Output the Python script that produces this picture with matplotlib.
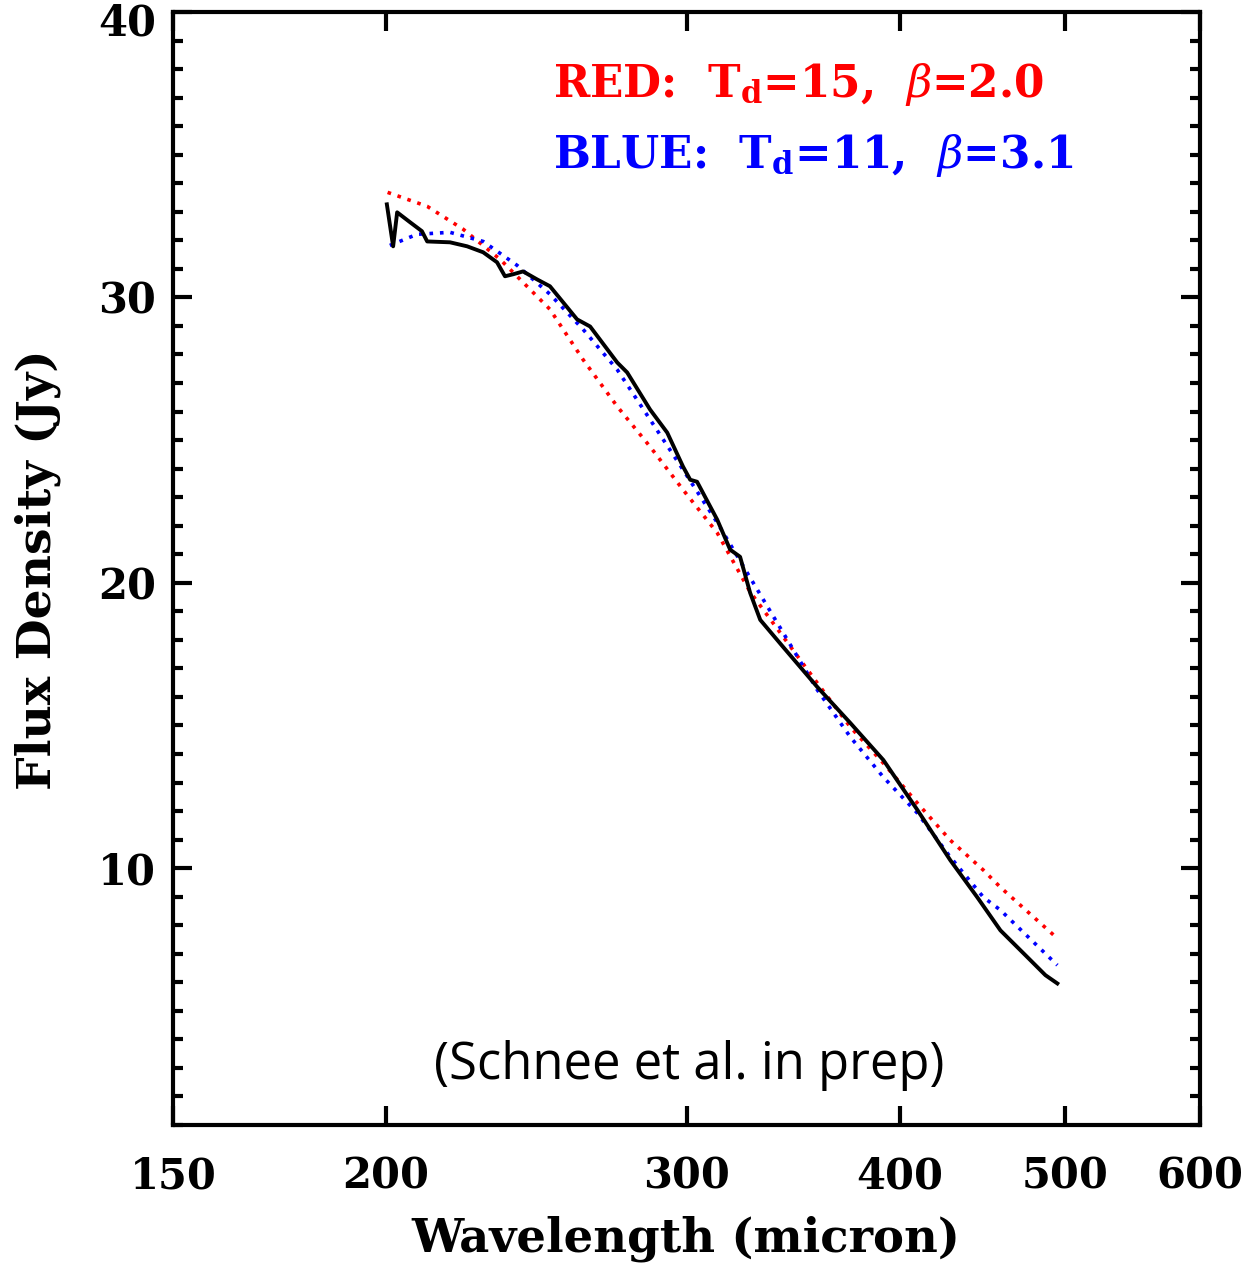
import matplotlib
matplotlib.use('Agg')
import matplotlib.pyplot as plt
import matplotlib.ticker as mticker

lam_obs = [200.2, 201.9, 203.0, 206.6, 209.9, 211.4, 218.0, 223.1, 228.0, 232.3,
           234.8, 237.4, 240.6, 245.2, 249.5, 258.8, 263.4, 273.2, 276.9, 285.6,
           292.3, 298.6, 301.5, 304.3, 312.7, 318.2, 322.5, 326.9, 331.4, 341.8,
           357.9, 374.2, 391.3, 409.7, 428.3, 444.2, 458.3, 475.3, 487.0, 494.9]
flux_obs = [33.26, 31.79, 32.98, 32.63, 32.32, 31.96, 31.93, 31.79, 31.58, 31.23,
            30.74, 30.81, 30.91, 30.63, 30.39, 29.23, 28.98, 27.72, 27.37, 26.07,
            25.26, 24.07, 23.61, 23.54, 22.21, 21.16, 20.91, 19.65, 18.70, 17.75,
            16.35, 15.09, 13.79, 12.04, 10.28, 8.98, 7.82, 6.88, 6.25, 5.96]

# ajuste rojo: Td=15, beta=2.0
lam_red = [200.4, 211.4, 221.9, 233.3, 249.5, 260.9, 273.2, 285.6, 298.6, 312.7,
           326.9, 341.8, 357.9, 374.2, 391.3, 409.7, 428.3, 447.9, 458.3, 494.9]
flux_red = [33.68, 33.19, 32.39, 31.33, 29.58, 27.82, 26.18, 24.77, 23.26, 21.75,
            19.68, 18.11, 16.49, 14.95, 13.68, 12.28, 10.98, 9.93, 9.33, 7.54]

# ajuste azul: Td=11, beta=3.1
lam_blue = [201.0, 208.5, 218.0, 228.0, 238.7, 249.5, 260.9, 273.2, 285.6, 298.6,
            312.7, 326.9, 341.8, 357.9, 374.2, 391.3, 409.7, 428.3, 447.9, 458.3, 494.9]
flux_blue = [31.82, 32.21, 32.28, 31.96, 31.12, 30.11, 28.88, 27.47, 25.72, 23.96,
             22.11, 20.18, 18.25, 16.25, 14.60, 13.19, 11.93, 10.39, 8.98, 8.53, 6.60]

xticks = [150, 200, 300, 400, 500, 600]
yticks = [10, 20, 30, 40]

SERIF = 'DejaVu Serif'
plt.rcParams['mathtext.fontset'] = 'dejavuserif'

fig = plt.figure(figsize=(12.51, 12.63), dpi=100)
ax = fig.add_axes([173/1251, 1 - 1125/1263, 1027/1251, 1113/1263])

ax.plot(lam_red, flux_red, color='#ff0000', linewidth=2.6, linestyle=(0, (1.0, 1.9)))
ax.plot(lam_blue, flux_blue, color='#0000ff', linewidth=2.6, linestyle=(0, (1.0, 1.9)))
ax.plot(lam_obs, flux_obs, color='black', linewidth=2.8, solid_joinstyle='round')

ax.set_xscale('log')
ax.set_xlim(150, 600)
ax.set_ylim(1, 40)
ax.xaxis.set_major_locator(mticker.FixedLocator(xticks))
ax.xaxis.set_major_formatter(mticker.FixedFormatter([str(v) for v in xticks]))
ax.xaxis.set_minor_locator(mticker.NullLocator())
ax.yaxis.set_major_locator(mticker.FixedLocator(yticks))
# la etiqueta 40 se escribe aparte, un poco mas abajo para que no se corte
ax.yaxis.set_major_formatter(mticker.FuncFormatter(lambda v, _: '' if v >= 40 else f'{v:.0f}'))
ax.yaxis.set_minor_locator(mticker.MultipleLocator(1))

for s in ax.spines.values():
    s.set_linewidth(3.0)
ax.tick_params(which='both', direction='in', top=True, right=True, width=3.0)
ax.tick_params(which='major', length=14)
ax.tick_params(which='minor', length=7)
ax.tick_params(axis='x', pad=22)
ax.tick_params(axis='y', pad=12)
for lab in ax.get_xticklabels() + ax.get_yticklabels():
    lab.set_fontfamily(SERIF)
    lab.set_fontweight('bold')
    lab.set_fontsize(30)

ax.annotate('40', xy=(0, 40), xycoords=('axes fraction', 'data'),
            xytext=(-12, -8), textcoords='offset points', ha='right', va='center',
            fontsize=30, fontweight='bold', family=SERIF)

fig.text(686/1251, 11/1263, 'Wavelength (micron)', ha='center', va='baseline',
         fontsize=33.5, fontweight='bold', family=SERIF)
fig.text(38/1251, 1 - 570/1263, 'Flux Density (Jy)', ha='center', va='center',
         rotation=90, fontsize=34, fontweight='bold', family=SERIF)

ax.text(0.370, 0.9236, r'RED:  T$_\mathbf{d}$=15,  $\beta$=2.0', transform=ax.transAxes,
        color='#ff0000', fontsize=31.5, fontweight='bold', family=SERIF, va='baseline')
ax.text(0.370, 0.8598, r'BLUE:  T$_\mathbf{d}$=11,  $\beta$=3.1', transform=ax.transAxes,
        color='#0000ff', fontsize=31.5, fontweight='bold', family=SERIF, va='baseline')

ax.text(0.5024, 0.0539, '(Schnee et al. in prep)', transform=ax.transAxes,
        ha='center', va='center', fontsize=36.5, family='Open Sans')

plt.savefig('out.png', dpi=100)
plt.close()
